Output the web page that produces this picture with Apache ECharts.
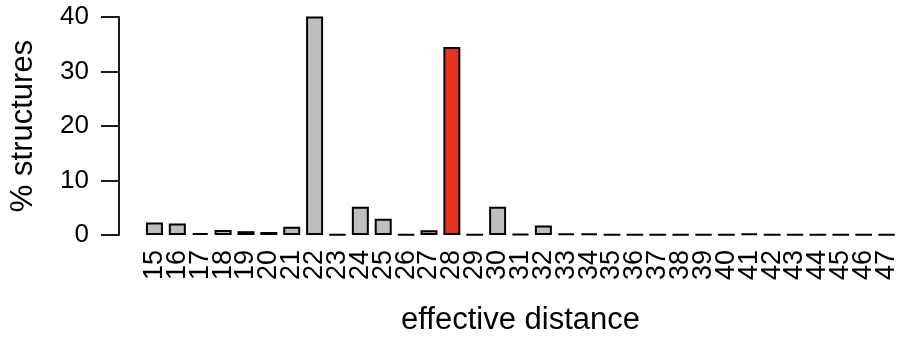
<!DOCTYPE html>
<html>
<head>
<meta charset="utf-8">
<script src="https://cdn.jsdelivr.net/npm/echarts@6/dist/echarts.min.js"></script>
<style>
  html, body { margin: 0; padding: 0; background: #fff; }
  #chart { width: 900px; height: 341px; }
</style>
</head>
<body>
<div id="chart"></div>
<script>
  // effective distance -> % structures
  const categories = ['15', '16', '17', '18', '19', '20', '21', '22', '23', '24', '25',
    '26', '27', '28', '29', '30', '31', '32', '33', '34', '35', '36', '37', '38', '39',
    '40', '41', '42', '43', '44', '45', '46', '47']
  const percents = [2.3, 2.1, 0.35, 0.9, 0.7, 0.55, 1.5, 40.1, 0.1, 5.2, 3.0,
    0.1, 0.85, 34.5, 0.05, 5.2, 0.15, 1.75, 0.25, 0.25, 0.05, 0.05, 0.05, 0.12, 0.12,
    0.05, 0.25, 0.05, 0.12, 0.05, 0.05, 0.05, 0.12]
  const highlighted = '28'
  const yTicks = [0, 10, 20, 30, 40]

  const font = "'Liberation Sans', Arial, sans-serif"
  const mychart = echarts.init(document.getElementById('chart'))

  const option = {
    animation: false,
    grid: {
      left: 142,
      right: 0,
      top: 17,
      bottom: 103,
    },
    xAxis: {
      type: 'category',
      data: categories,
      name: 'effective distance',
      nameLocation: 'middle',
      nameGap: 70,
      nameTextStyle: { color: '#000', fontSize: 31, fontFamily: font },
      axisLine: { show: false },
      axisTick: { show: false },
      axisLabel: {
        rotate: 90,
        margin: 15,
        interval: 0,
        color: '#000',
        fontSize: 27,
        fontFamily: font,
      },
    },
    yAxis: {
      type: 'value',
      min: yTicks[0],
      max: yTicks[yTicks.length - 1],
      interval: 10,
      offset: 24,
      name: '% structures',
      nameLocation: 'middle',
      nameGap: 80,
      nameTextStyle: { color: '#000', fontSize: 31, fontFamily: font },
      splitLine: { show: false },
      axisLine: { show: true, lineStyle: { color: '#000', width: 1.8 } },
      axisTick: { show: true, length: 18, lineStyle: { color: '#000', width: 1.8 } },
      axisLabel: {
        margin: 30,
        color: '#000',
        fontSize: 26,
        fontFamily: font,
        padding: [6, 0, 0, 0],
      },
    },
    series: [
      {
        type: 'bar',
        clip: false,
        barWidth: 17,
        data: percents.map((v, i) => ({
          value: v,
          itemStyle: {
            color: categories[i] === highlighted ? '#e6331f' : '#bebebe',
          },
        })),
        itemStyle: {
          borderColor: '#000',
          borderWidth: 2,
        },
      },
    ],
  }
  mychart.setOption(option)
</script>
</body>
</html>
